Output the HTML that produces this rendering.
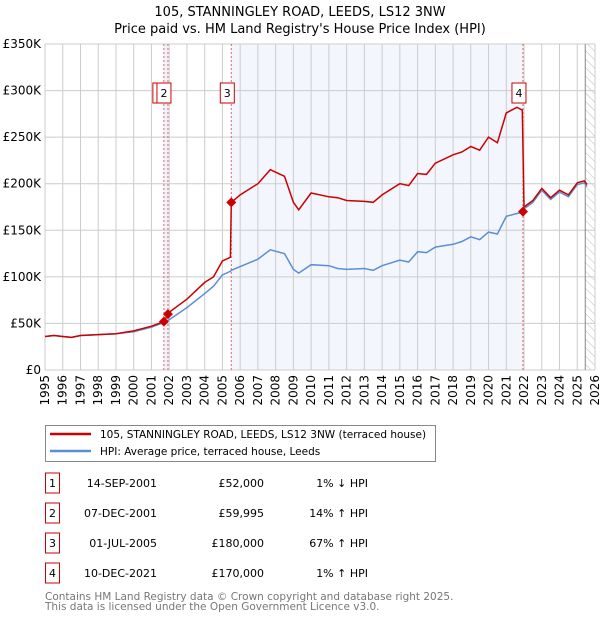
<!DOCTYPE html>
<html><head><meta charset="utf-8"><style>
body{margin:0;background:#fff;font-family:"DejaVu Sans","Liberation Sans",sans-serif;}
svg text{font-family:"DejaVu Sans","Liberation Sans",sans-serif;}
</style></head><body>
<svg id="c" width="600" height="620" xmlns="http://www.w3.org/2000/svg">
<defs><pattern id="hatch" width="6" height="6" patternUnits="userSpaceOnUse" patternTransform="rotate(-45)"><line x1="0" y1="0" x2="0" y2="6" stroke="#bbb" stroke-width="1"/></pattern></defs>
<text x="300" y="16" text-anchor="middle" font-size="13" fill="#000">105, STANNINGLEY ROAD, LEEDS, LS12 3NW</text>
<text x="300" y="33" text-anchor="middle" font-size="13" fill="#000">Price paid vs. HM Land Registry's House Price Index (HPI)</text>
<g id="plot"></g>
<g>
<rect x="45.5" y="425.5" width="390" height="36" fill="#fff" stroke="#888"/>
<line x1="50" y1="434" x2="91" y2="434" stroke="#cc0000" stroke-width="2.5"/>
<text x="100" y="438" font-size="10.5">105, STANNINGLEY ROAD, LEEDS, LS12 3NW (terraced house)</text>
<line x1="50" y1="451" x2="91" y2="451" stroke="#5b8fd4" stroke-width="2.5"/>
<text x="100" y="455" font-size="10.5">HPI: Average price, terraced house, Leeds</text>
</g>
<g id="table" font-size="11"></g>
<text x="45" y="600" font-size="10.5" fill="#777">Contains HM Land Registry data © Crown copyright and database right 2025.</text>
<text x="45" y="610" font-size="10.5" fill="#777">This data is licensed under the Open Government Licence v3.0.</text>
</svg>
<script>
const dates=[1995,1995.5,1996,1996.5,1997,1998,1999,2000,2001,2001.7,2002,2003,2004,2004.5,2005,2005.45,2005.5,2006,2007,2007.7,2008.5,2009,2009.3,2010,2011,2011.5,2012,2013,2013.5,2014,2015,2015.5,2016,2016.5,2017,2018,2018.5,2019,2019.5,2020,2020.5,2021,2021.6,2021.9,2022,2022.5,2023,2023.5,2024,2024.5,2025,2025.4,2025.55];
const hpi=[36,37,36,35,37,38,39,41,46,51,54,67,82,90,102,106,107,111,119,129,125,108,104,113,112,109,108,109,107,112,118,116,127,126,132,135,138,143,140,148,146,165,168,169,173,180,193,183,191,186,199,201,197];
const price=[36,37,36,35,37,38,39,42,47,52,62,76,94,100,117,121,180,188,200,215,208,180,172,190,186,185,182,181,180,188,200,198,211,210,222,231,234,240,236,250,244,276,282,279,175,182,195,185,193,188,201,203,199];
const sales=[{n:"1",d:2001.70,v:52,date:"14-SEP-2001",p:"£52,000",h:"1% ↓ HPI"},{n:"2",d:2001.93,v:59.995,date:"07-DEC-2001",p:"£59,995",h:"14% ↑ HPI"},{n:"3",d:2005.50,v:180,date:"01-JUL-2005",p:"£180,000",h:"67% ↑ HPI"},{n:"4",d:2021.94,v:170,date:"10-DEC-2021",p:"£170,000",h:"1% ↑ HPI"}];
const yTicks=[0,50,100,150,200,250,300,350];
const yLabels=["£0","£50K","£100K","£150K","£200K","£250K","£300K","£350K"];
const x0=45,x1=595,y0=370,y1=44;
const X=d=>x0+(d-1995)/31*(x1-x0);
const Y=v=>y0-v/350*(y0-y1);
const NS="http://www.w3.org/2000/svg";
const plot=document.getElementById('plot');
function mk(tag,attrs,parent){const e=document.createElementNS(NS,tag);for(const k in attrs)e.setAttribute(k,attrs[k]);(parent||plot).appendChild(e);return e;}
let e;
e=mk('rect',{x:x0,y:y1,width:x1-x0,height:y0-y1,fill:'#fff'});


e=mk('rect',{x:X(sales[0].d),y:y1,width:X(sales[1].d)-X(sales[0].d),height:y0-y1,fill:'#eef3fc'});


e=mk('rect',{x:X(sales[2].d),y:y1,width:X(sales[3].d)-X(sales[2].d),height:y0-y1,fill:'#f3f6fd'});


e=mk('rect',{x:X(2025.45),y:y1,width:x1-X(2025.45),height:y0-y1,fill:'url(#hatch)'});


for(let yr=1995;yr<=2026;yr++){
 e=mk('line',{x1:X(yr),x2:X(yr),y1:y1,y2:y0,stroke:'#ccc','stroke-width':1});
 
 
 e=mk('text',{x:0,y:0,'font-size':12,'text-anchor':'end',transform:`translate(${X(yr)+4},${y0+5}) rotate(-90)`});
 e.textContent=yr;
 
 
}
yTicks.forEach((t,i)=>{
 e=mk('line',{x1:x0,x2:x1,y1:Y(t),y2:Y(t),stroke:'#ccc','stroke-width':1});
 
 
 e=mk('text',{x:x0-4,y:Y(t)+4,'font-size':12,'text-anchor':'end'});
 e.textContent=yLabels[i];
 
 
});
e=mk('line',{x1:X(2025.45),x2:X(2025.45),y1:y1,y2:y0,stroke:'#888','stroke-width':1});


sales.forEach(s=>{
 e=mk('line',{x1:X(s.d),x2:X(s.d),y1:y1,y2:y0,stroke:'#e06666','stroke-width':1,'stroke-dasharray':'2,2'});
 
 
});
const pts=a=>a.map((v,i)=>X(dates[i]).toFixed(1)+','+Y(v).toFixed(1)).join(' ');
e=mk('polyline',{points:pts(hpi),fill:'none',stroke:'#5b8fd4','stroke-width':1.5});


e=mk('polyline',{points:pts(price),fill:'none',stroke:'#cc0000','stroke-width':1.5});


sales.forEach(s=>{
 const cx=X(s.d),cy=Y(s.v);
 e=mk('path',{d:`M${cx},${cy-5}L${cx+5},${cy}L${cx},${cy+5}L${cx-5},${cy}Z`,fill:'#cc0000'});
 
 
 const bx=cx-4;
 const g=mk('g',{});
 
 
 mk('rect',{x:bx-7,y:83,width:14,height:20,fill:'#fff',stroke:'#cc0000','stroke-width':1},g);
 const t=mk('text',{x:bx,y:97,'font-size':11,'text-anchor':'middle'},g);t.textContent=s.n;
});
const tb=document.getElementById('table');
sales.forEach((s,i)=>{
 const y=483+i*30;
 const g=mk('g',{},tb);
 
 
 mk('rect',{x:45.5,y:y-10,width:14,height:20,fill:'#fff',stroke:'#cc0000'},g);
 let t=mk('text',{x:52.5,y:y+4,'text-anchor':'middle'},g);t.textContent=s.n;
 t=mk('text',{x:157,y:y+4,'text-anchor':'end'},g);t.textContent=s.date;
 t=mk('text',{x:264,y:y+4,'text-anchor':'end'},g);t.textContent=s.p;
 t=mk('text',{x:368,y:y+4,'text-anchor':'end'},g);t.textContent=s.h;
});
</script>
</body></html>
